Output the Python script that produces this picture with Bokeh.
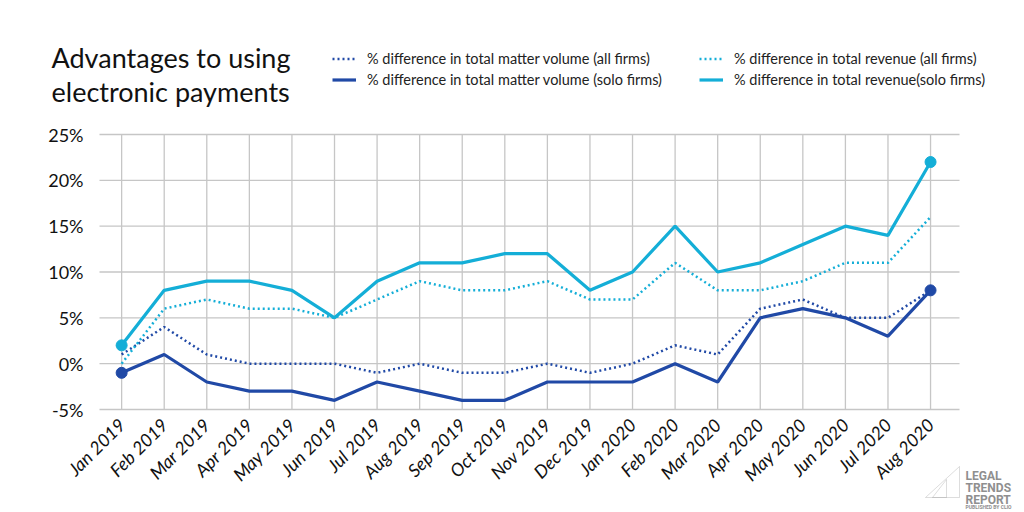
import math
from bokeh.plotting import figure
from bokeh.models import (Range1d, FixedTicker, PrintfTickFormatter, Label,
                          Legend, LegendItem, PolyAnnotation)
from bokeh.embed import file_html
from bokeh.resources import INLINE

# ---- data -------------------------------------------------------------
months = ["Jan 2019", "Feb 2019", "Mar 2019", "Apr 2019", "May 2019",
          "Jun 2019", "Jul 2019", "Aug 2019", "Sep 2019", "Oct 2019",
          "Nov 2019", "Dec 2019", "Jan 2020", "Feb 2020", "Mar 2020",
          "Apr 2020", "May 2020", "Jun 2020", "Jul 2020", "Aug 2020"]
volume_all = [1, 4, 1, 0, 0, 0, -1, 0, -1, -1, 0, -1, 0, 2, 1, 6, 7, 5, 5, 8]
volume_solo = [-1, 1, -2, -3, -3, -4, -2, -3, -4, -4, -2, -2, -2, 0, -2, 5, 6, 5, 3, 8]
revenue_all = [0, 6, 7, 6, 6, 5, 7, 9, 8, 8, 9, 7, 7, 11, 8, 8, 9, 11, 11, 16]
revenue_solo = [2, 8, 9, 9, 8, 5, 9, 11, 11, 12, 12, 8, 10, 15, 10, 11, 13, 15, 14, 22]
y_ticks = [-5, 0, 5, 10, 15, 20, 25]

x = list(range(len(months)))

# ---- page geometry (pixels) --------------------------------------------
W, H = 1024, 512
PLOT_L, PLOT_R, PLOT_T, PLOT_B = 99, 959, 134, 409   # gridded area
X_LO, X_HI = -0.52, len(months) - 1 + 0.68            # x extent of gridded area
Y_LO, Y_HI = y_ticks[0], y_ticks[-1]

dx = (X_HI - X_LO) / (PLOT_R - PLOT_L)
dy = (Y_HI - Y_LO) / (PLOT_B - PLOT_T)
x_range = Range1d(X_LO - PLOT_L * dx, X_HI + (W - PLOT_R) * dx)
y_range = Range1d(Y_LO - (H - PLOT_B) * dy, Y_HI + PLOT_T * dy)

DARK = "#2049a6"
CYAN = "#14aed7"
GRID = "#c6c6c6"
FONT = "Lato"

p = figure(width=W, height=H, output_backend="svg", toolbar_location=None,
           x_range=x_range, y_range=y_range,
           min_border=0, min_border_left=0, min_border_right=0,
           min_border_top=0, min_border_bottom=0)
p.outline_line_color = None
p.background_fill_color = "white"
p.border_fill_color = "white"
p.xgrid.visible = False
p.ygrid.visible = False

# grid confined to the plotting area
p.segment(x0=x, x1=x, y0=[Y_LO] * len(x), y1=[Y_HI] * len(x),
          line_color=GRID, line_width=1.3)
p.segment(x0=[X_LO] * len(y_ticks), x1=[X_HI] * len(y_ticks), y0=y_ticks, y1=y_ticks,
          line_color=GRID, line_width=1.3)

# axes pinned to the edges of the gridded area
p.xaxis.fixed_location = Y_LO
p.xaxis.ticker = FixedTicker(ticks=x)
p.xaxis.major_label_overrides = {i: m for i, m in enumerate(months)}
p.xaxis.major_label_orientation = math.pi / 4
p.xaxis.major_label_text_font = FONT
p.xaxis.major_label_text_font_style = "italic"
p.xaxis.major_label_text_font_size = "18px"
p.xaxis.major_label_text_color = "#111111"
p.xaxis.major_label_standoff = 6

p.yaxis.fixed_location = X_LO
p.yaxis.ticker = FixedTicker(ticks=y_ticks)
p.yaxis.formatter = PrintfTickFormatter(format="%d%%")
p.yaxis.major_label_text_font = FONT
p.yaxis.major_label_text_font_size = "18px"
p.yaxis.major_label_text_color = "#111111"
p.yaxis.major_label_standoff = 10

for ax in (p.xaxis, p.yaxis):
    ax.axis_line_color = None
    ax.major_tick_line_color = None
    ax.minor_tick_line_color = None

# series
r_va = p.line(x, volume_all, color=DARK, line_width=2.5, line_dash="2 3")
r_ra = p.line(x, revenue_all, color=CYAN, line_width=2.5, line_dash="2 3")
r_vs = p.line(x, volume_solo, color=DARK, line_width=3.2)
r_rs = p.line(x, revenue_solo, color=CYAN, line_width=3.2)

# end points of the solo-firm series
p.scatter([x[0], x[-1]], [volume_solo[0], volume_solo[-1]], size=11, color=DARK)
p.scatter([x[0], x[-1]], [revenue_solo[0], revenue_solo[-1]], size=11, color=CYAN)

# legend, two columns
def make_legend(items, left, top):
    n = len(items)
    gh, sp = 17, 4
    height = n * gh + (n - 1) * sp
    lg = Legend(items=items, location=(left, H - top - height), orientation="vertical",
                label_text_font=FONT, label_text_font_size="14.5px",
                label_text_color="#222222", glyph_width=24, glyph_height=gh,
                label_standoff=11, label_height=gh, spacing=sp, padding=0, margin=0,
                border_line_color=None, background_fill_alpha=0)
    p.add_layout(lg, "center")

make_legend([LegendItem(label="% difference in total matter volume (all firms)", renderers=[r_va]),
             LegendItem(label="% difference in total matter volume (solo firms)", renderers=[r_vs])],
            332, 50)
make_legend([LegendItem(label="% difference in total revenue (all firms)", renderers=[r_ra]),
             LegendItem(label="% difference in total revenue(solo firms)", renderers=[r_rs])],
            699, 50)

# title
for txt, base in (("Advantages to using", 57), ("electronic payments", 91)):
    p.add_layout(Label(x=51, y=H - base, x_units="screen", y_units="screen", text=txt,
                       text_font=FONT, text_font_size="27px", text_color="#111111",
                       text_baseline="alphabetic"))

# publisher mark
GREY = "#8f8f8f"
for txt, base, size in (("LEGAL", 475, "12px"), ("TRENDS", 487, "12px"),
                        ("REPORT", 499, "12px"), ("PUBLISHED BY CLIO", 506, "5px")):
    p.add_layout(Label(x=965, y=H - base, x_units="screen", y_units="screen", text=txt,
                       text_font="Roboto", text_font_size=size, text_font_style="bold",
                       text_color=GREY, text_baseline="alphabetic"))
for xs, ys in (([925, 959, 959], [497, 466, 497]), ([932, 946, 946], [497, 479, 497])):
    p.add_layout(PolyAnnotation(xs=xs, ys=[H - v for v in ys],
                                xs_units="screen", ys_units="screen",
                                fill_alpha=0, line_color=GREY, line_width=1))

open("out.html", "w").write(file_html(p, INLINE))
